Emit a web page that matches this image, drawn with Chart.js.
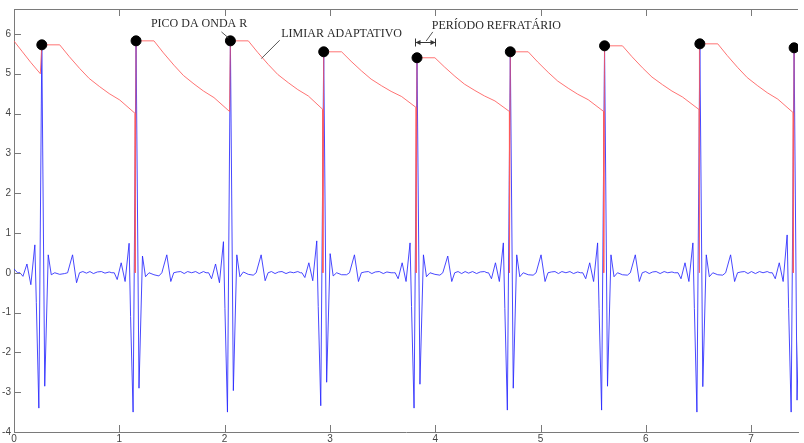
<!DOCTYPE html>
<html>
<head>
<meta charset="utf-8">
<script src="https://cdn.jsdelivr.net/npm/chart.js@4"></script>
<style>
  html, body { margin: 0; padding: 0; background: #fff; }
  #wrap { width: 804px; height: 443px; }
</style>
</head>
<body>
<div id="wrap"><canvas id="ecg" width="804" height="443"></canvas></div>
<script>
// ---- ECG trace: R-peak detection with adaptive threshold ----

// R peaks (time, amplitude)
const rPeakTimes = [0.264, 1.159, 2.055, 2.941, 3.827, 4.713, 5.608, 6.513, 7.408];
const rPeakValues = [5.725, 5.825, 5.825, 5.55, 5.40, 5.55, 5.70, 5.75, 5.65];

// samples before the first beat
const leadInTimes = [0, 0.015, 0.035];
const leadInValues = [0.10, 0.05, 0.00];

// sample instants of each beat, relative to its R peak
const beatOffsets = [-0.207, -0.179, -0.141, -0.104, -0.066, -0.052, -0.028, 0, 0.028, 0.061,
  0.090, 0.123, 0.170, 0.217, 0.245, 0.292, 0.330, 0.358, 0.390, 0.424,
  0.457, 0.490, 0.528, 0.566, 0.600, 0.640, 0.665];

// filtered ECG samples, one row per beat
const beatValues = [
  [0.00, -0.09, 0.22, -0.30, 0.70, -0.75, -3.40, 5.725, -2.85, 0.45, -0.05, 0.00, -0.04, -0.02, 0.00, 0.45, -0.25, 0.00, 0.03, -0.01, 0.03, -0.02, 0.02, 0.03, -0.01, 0.02, 0.00],
  [0.00, -0.17, 0.25, -0.22, 0.74, -1.10, -3.50, 5.825, -2.90, 0.42, -0.10, 0.00, -0.05, -0.08, 0.00, 0.45, -0.22, 0.00, 0.02, 0.03, -0.02, 0.03, 0.00, 0.03, -0.02, 0.03, 0.00],
  [0.00, -0.15, 0.22, -0.25, 0.78, -0.90, -3.50, 5.825, -2.96, 0.45, -0.10, 0.02, -0.04, -0.06, 0.00, 0.45, -0.20, 0.00, 0.03, -0.02, 0.02, 0.03, -0.02, 0.02, 0.00, 0.03, 0.00],
  [0.00, -0.12, 0.25, -0.20, 0.80, -0.85, -3.34, 5.55, -2.75, 0.48, -0.08, 0.00, -0.05, -0.05, 0.00, 0.45, -0.22, 0.00, 0.02, 0.03, -0.02, 0.02, 0.03, -0.02, 0.02, 0.00, 0.00],
  [0.00, -0.15, 0.25, -0.22, 0.75, -0.85, -3.40, 5.40, -2.80, 0.45, -0.10, 0.00, -0.04, -0.06, 0.00, 0.42, -0.22, 0.00, 0.03, -0.02, 0.03, -0.01, 0.03, -0.02, 0.02, 0.03, 0.00],
  [0.00, -0.15, 0.25, -0.22, 0.75, -0.90, -3.45, 5.55, -2.90, 0.45, -0.10, 0.00, -0.05, -0.06, 0.00, 0.45, -0.22, 0.00, 0.02, 0.03, -0.02, 0.03, 0.00, 0.03, -0.02, 0.02, 0.00],
  [0.00, -0.15, 0.25, -0.22, 0.75, -0.90, -3.45, 5.70, -2.85, 0.45, -0.10, 0.00, -0.05, -0.06, 0.00, 0.45, -0.22, 0.00, 0.03, -0.02, 0.02, 0.03, -0.02, 0.03, 0.00, 0.02, 0.00],
  [0.00, -0.15, 0.25, -0.22, 0.75, -0.90, -3.50, 5.75, -2.86, 0.45, -0.10, 0.00, -0.05, -0.06, 0.00, 0.45, -0.22, 0.00, 0.02, 0.03, -0.02, 0.03, -0.02, 0.03, 0.00, 0.03, 0.00],
  [0.00, -0.15, 0.25, -0.22, 0.95, -0.90, -3.50, 5.65, -3.20, 0.45, -0.10, 0.00, -0.05, -0.06, 0.00, 0.45, -0.22, 0.00, 0.02, 0.03, -0.02, 0.03, -0.02, 0.03, 0.00, 0.03, 0.00]
];

// adaptive threshold: hold during refractory period, decay, drop at detection
const thresholdTimes = [0, 0.08, 0.16, 0.250, 0.264,
  0.434, 0.524, 0.624, 0.714, 0.814, 0.904, 1.004, 1.151, 1.151, 1.159,
  1.329, 1.419, 1.519, 1.609, 1.709, 1.799, 1.899, 2.047, 2.055,
  2.225, 2.315, 2.415, 2.505, 2.605, 2.695, 2.795, 2.933, 2.933, 2.941,
  3.111, 3.201, 3.301, 3.391, 3.491, 3.581, 3.681, 3.819, 3.819, 3.827,
  3.997, 4.087, 4.187, 4.277, 4.377, 4.467, 4.567, 4.705, 4.705, 4.713,
  4.883, 4.973, 5.073, 5.163, 5.263, 5.353, 5.453, 5.600, 5.600, 5.608,
  5.778, 5.868, 5.968, 6.058, 6.158, 6.248, 6.348, 6.505, 6.505, 6.513,
  6.683, 6.773, 6.873, 6.963, 7.063, 7.153, 7.253, 7.400, 7.400, 7.408,
  7.578];
const thresholdValues = [5.82, 5.55, 5.28, 5.00, 5.725,
  5.725, 5.432, 5.130, 4.880, 4.673, 4.500, 4.340, 4.00, 0, 5.825,
  5.825, 5.523, 5.213, 4.955, 4.742, 4.565, 4.400, 4.05, 5.825,
  5.825, 5.532, 5.230, 4.980, 4.773, 4.600, 4.440, 4.10, 0, 5.55,
  5.55, 5.312, 5.067, 4.864, 4.696, 4.556, 4.426, 4.15, 0, 5.40,
  5.40, 5.171, 4.934, 4.739, 4.577, 4.442, 4.316, 4.05, 0, 5.55,
  5.55, 5.295, 5.033, 4.815, 4.635, 4.485, 4.346, 4.05, 0, 5.70,
  5.70, 5.428, 5.148, 4.916, 4.724, 4.564, 4.415, 4.10, 0, 5.75,
  5.75, 5.456, 5.153, 4.902, 4.695, 4.522, 4.361, 4.02, 0, 5.65,
  5.65];

const xTicks = [0, 1, 2, 3, 4, 5, 6, 7];
const yTicks = [-4, -3, -2, -1, 0, 1, 2, 3, 4, 5, 6];

// build point lists
const ecgPoints = leadInTimes.map((t, i) => ({ x: t, y: leadInValues[i] }));
rPeakTimes.forEach((r, i) => {
  beatOffsets.forEach((o, j) => ecgPoints.push({ x: +(r + o).toFixed(3), y: beatValues[i][j] }));
});
const thresholdPoints = thresholdTimes.map((t, i) => ({ x: t, y: thresholdValues[i] }));
const peakPoints = rPeakTimes.map((t, i) => ({ x: t, y: rPeakValues[i] }));

// text callouts, anchored in data units
const notes = [
  { text: 'PICO DA ONDA R', x: 1.30, y: 6.24, line: [1.97, 6.05, 2.036, 5.90] },
  { text: 'LIMIAR ADAPTATIVO', x: 2.538, y: 5.99, line: [2.523, 5.84, 2.349, 5.38] },
  { text: 'PERÍODO REFRATÁRIO', x: 3.968, y: 6.20, line: [3.977, 6.05, 3.914, 5.82] }
];
const refractorySpan = { from: 3.81, to: 4.0, y: 5.80 };

const frameAndNotes = {
  id: 'frameAndNotes',
  afterDraw(chart) {
    const { ctx, chartArea: a, scales: { x, y } } = chart;
    ctx.save();
    ctx.strokeStyle = '#7a7a7a';
    ctx.lineWidth = 1;
    ctx.beginPath();
    // top border
    ctx.moveTo(a.left, a.top + 0.5);
    ctx.lineTo(a.right, a.top + 0.5);
    // inward ticks
    xTicks.forEach(v => {
      const px = Math.round(x.getPixelForValue(v)) + 0.5;
      ctx.moveTo(px, a.bottom); ctx.lineTo(px, a.bottom - 7);
      ctx.moveTo(px, a.top); ctx.lineTo(px, a.top + 7);
    });
    yTicks.forEach(v => {
      const py = Math.round(y.getPixelForValue(v)) + 0.5;
      ctx.moveTo(a.left, py); ctx.lineTo(a.left + 7, py);
    });
    ctx.stroke();

    // callout texts and leaders
    ctx.font = '12px "Liberation Serif", "DejaVu Serif", serif';
    ctx.fillStyle = '#2a2a2a';
    ctx.textBaseline = 'middle';
    ctx.textAlign = 'left';
    ctx.strokeStyle = '#555';
    notes.forEach(n => {
      ctx.fillText(n.text, x.getPixelForValue(n.x), y.getPixelForValue(n.y));
      ctx.beginPath();
      ctx.moveTo(x.getPixelForValue(n.line[0]), y.getPixelForValue(n.line[1]));
      ctx.lineTo(x.getPixelForValue(n.line[2]), y.getPixelForValue(n.line[3]));
      ctx.stroke();
    });

    // refractory period double arrow
    const x0 = Math.round(x.getPixelForValue(refractorySpan.from)) + 0.5;
    const x1 = Math.round(x.getPixelForValue(refractorySpan.to)) + 0.5;
    const ay = Math.round(y.getPixelForValue(refractorySpan.y)) + 0.5;
    ctx.strokeStyle = '#333';
    ctx.fillStyle = '#333';
    ctx.beginPath();
    ctx.moveTo(x0, ay - 4); ctx.lineTo(x0, ay + 4);
    ctx.moveTo(x1, ay - 4); ctx.lineTo(x1, ay + 4);
    ctx.moveTo(x0, ay); ctx.lineTo(x1, ay);
    ctx.stroke();
    [[x0, 1], [x1, -1]].forEach(([px, d]) => {
      ctx.beginPath();
      ctx.moveTo(px, ay);
      ctx.lineTo(px + 5 * d, ay - 2.5);
      ctx.lineTo(px + 5 * d, ay + 2.5);
      ctx.closePath();
      ctx.fill();
    });
    ctx.restore();
  }
};

const tickFont = { family: '"Liberation Sans", Arial, sans-serif', size: 10 };

new Chart(document.getElementById('ecg'), {
  type: 'line',
  data: {
    datasets: [
      {
        label: 'Pico',
        data: peakPoints,
        showLine: false,
        pointRadius: 5,
        pointBackgroundColor: '#000',
        pointBorderColor: '#000',
        order: 0
      },
      {
        label: 'Limiar',
        data: thresholdPoints,
        borderColor: 'rgba(255, 90, 90, 0.85)',
        borderWidth: 1,
        pointRadius: 0,
        tension: 0,
        order: 1
      },
      {
        label: 'ECG',
        data: ecgPoints,
        borderColor: 'rgba(40, 40, 255, 0.85)',
        borderWidth: 1,
        pointRadius: 0,
        tension: 0,
        order: 2
      }
    ]
  },
  options: {
    responsive: false,
    animation: false,
    events: [],
    layout: { padding: { top: 7, left: 0, right: 0, bottom: 0 } },
    plugins: { legend: { display: false }, tooltip: { enabled: false } },
    scales: {
      x: {
        type: 'linear',
        min: 0,
        max: 7.445,
        afterBuildTicks: s => { s.ticks = xTicks.map(v => ({ value: v })); },
        afterFit: s => { s.height = 11; },
        ticks: { font: tickFont, color: '#444', padding: 1, maxRotation: 0, autoSkip: false },
        grid: { display: false, drawTicks: false },
        border: { display: true, color: '#7a7a7a', width: 1 }
      },
      y: {
        type: 'linear',
        min: -4,
        max: 6.625,
        afterBuildTicks: s => { s.ticks = yTicks.map(v => ({ value: v })); },
        afterFit: s => { s.width = 14; },
        ticks: { font: tickFont, color: '#444', padding: 3 },
        grid: { display: false, drawTicks: false },
        border: { display: true, color: '#7a7a7a', width: 1 }
      }
    }
  },
  plugins: [frameAndNotes]
});
</script>
</body>
</html>
